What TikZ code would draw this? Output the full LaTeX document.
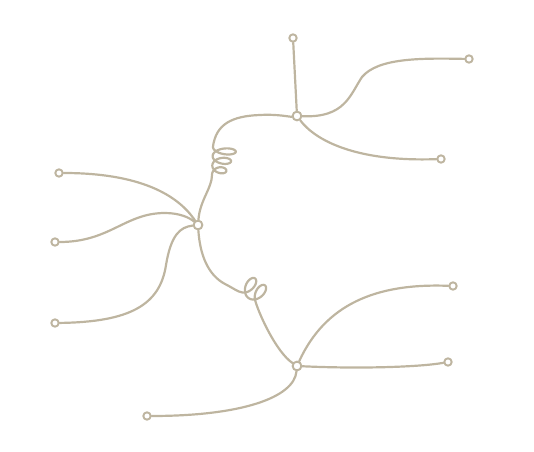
\documentclass[tikz,border=0pt]{standalone}
\usetikzlibrary{calc}
\definecolor{twig}{RGB}{190,181,160}
\tikzset{leaf/.style={circle,draw=twig,fill=white,line width=1.1pt,inner sep=0pt,minimum size=4.2pt},
hub/.style={leaf,minimum size=5pt},
branch/.style={draw=twig,line width=1.25pt,line cap=round,line join=round}}
\begin{document}
\begin{tikzpicture}[x=0.02cm,y=-0.02cm]
\useasboundingbox(0,0)rectangle(534,452);
\node[hub](C)at(198,225){};
\node[hub](T)at(297,116){};
\node[hub](B)at(297,366){};
\foreach \n/\p in {L1/{59,173},L2/{55,242},L3/{55,323},T1/{293,38},T2/{469,59},T3/{441,159},B1/{453,286},B2/{448,362},B3/{147,416}}
\node[leaf](\n)at(\p){};
\draw[branch](L1)..controls(140,173)and(178,195)..(C);
\draw[branch](L2)..controls(110,242)and(125,213)..(165,213)..controls(180,213)and(190,218)..(C);
\draw[branch](L3)..controls(130,322)and(160,305)..(166,265)..controls(171,235)and(180,227)..(C);
\draw[branch](C)..controls(200,200)and(212,188)..(212,175)
--plot[domain=0:6*pi,samples=180,smooth,variable=\t]({218+0.4*\t-(6+0.35*\t)*cos(\t r)},{175-1.5*\t-5.2*sin(\t r)})
..controls(216,124)and(232,116)..(260,115)..controls(278,114)and(290,117)..(T);
\draw[branch](C)..controls(200,255)and(208,275)..(225,284)..controls(233,288)and(238,292)..(242.4,292.5)
--plot[domain=-pi:2*pi+2,samples=140,smooth,variable=\t]({250+1.57*\t-7.5*sin(\t r)+2.7*cos(\t r)},{287+1.1*\t-9*cos(\t r)})
..controls(258,312)and(276,352)..(B);
\draw[branch](T)--(T1);
\draw[branch](T)..controls(345,118)and(350,95)..(362,77)..controls(378,58)and(420,58)..(T2);
\draw[branch](T)..controls(315,140)and(355,162)..(T3);
\draw[branch](B)..controls(325,305)and(375,283)..(B1);
\draw[branch](B)..controls(360,369)and(420,367)..(B2);
\draw[branch](B)..controls(294,398)and(240,416)..(B3);
\end{tikzpicture}
\end{document}
